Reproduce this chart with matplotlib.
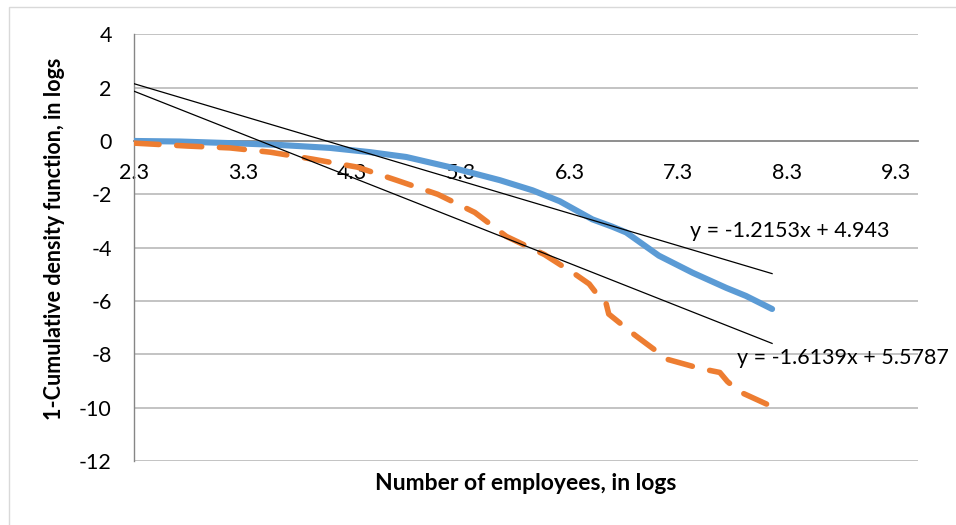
import matplotlib.pyplot as plt
from matplotlib.patches import Rectangle

plt.rcParams['font.family'] = ['Lato', 'DejaVu Sans']
plt.rcParams['axes.unicode_minus'] = False

# blue series (solid)
blue_x = [2.30, 2.72, 3.18, 3.64, 4.10, 4.47, 4.80, 5.20, 5.66, 5.96, 6.21,
          6.51, 6.69, 6.82, 7.12, 7.43, 7.74, 7.92, 8.16]
blue_y = [0.00, -0.02, -0.08, -0.15, -0.26, -0.42, -0.60, -0.98, -1.47, -1.85,
          -2.26, -2.94, -3.21, -3.43, -4.30, -4.94, -5.51, -5.81, -6.30]

# orange series (dashed)
orange_x = [2.30, 2.79, 3.18, 3.55, 3.94, 4.35, 4.71, 5.09, 5.43, 5.72, 6.07,
            6.36, 6.48, 6.58, 6.63, 6.66, 6.90, 7.20, 7.50, 7.68, 7.75, 7.86, 8.16]
orange_y = [-0.08, -0.19, -0.26, -0.42, -0.68, -0.98, -1.47, -2.00, -2.68, -3.58,
            -4.26, -5.02, -5.36, -5.89, -6.00, -6.49, -7.28, -8.19, -8.53, -8.68,
            -9.02, -9.40, -9.96]

# linear trend lines
trend_slope = [-1.2153, -1.6139]
trend_icpt = [4.943, 5.5787]
trend_labels = ["y = -1.2153x + 4.943", "y = -1.6139x + 5.5787"]

x_ticks = [2.3, 3.3, 4.3, 5.3, 6.3, 7.3, 8.3, 9.3]
y_ticks = [4, 2, 0, -2, -4, -6, -8, -10, -12]

fig = plt.figure(figsize=(9.56, 5.25), dpi=100)
ax = fig.add_axes([134 / 956, 1 - 461 / 525, 784 / 956, 426.7 / 525])

ax.set_xlim(2.3, 9.5)
ax.set_ylim(-12, 4)

# gridlines
for yv in y_ticks:
    if yv != 0:
        ax.axhline(yv, color='#b3b3b3', lw=1.1, zorder=1)

ax.plot(blue_x, blue_y, color='#5b9bd5', lw=4.4, solid_capstyle='round',
        solid_joinstyle='round', zorder=3)
ax.plot(orange_x, orange_y, color='#ed7d31', lw=4.0, dashes=(4.5, 3.2),
        dash_capstyle='round', dash_joinstyle='round', zorder=3)

x0, x1 = min(blue_x), max(blue_x)
for m, c in zip(trend_slope, trend_icpt):
    ax.plot([x0, x1], [m * x0 + c, m * x1 + c], color='black', lw=0.9, zorder=4)

ax.text(7.41, -3.37, trend_labels[0], fontsize=15.5, va='center', ha='left', zorder=5)
ax.text(7.84, -8.14, trend_labels[1], fontsize=15.5, va='center', ha='left',
        zorder=5, clip_on=False)

ax.set_xticks(x_ticks)
ax.set_yticks(y_ticks)
ax.set_xticklabels([f"{v:.1f}" for v in x_ticks])
ax.tick_params(axis='both', length=0, labelsize=15.5)
ax.tick_params(axis='x', pad=16)
ax.tick_params(axis='y', pad=16)

ax.spines['top'].set_visible(False)
ax.spines['right'].set_visible(False)
ax.spines['bottom'].set_position(('data', 0))
ax.spines['bottom'].set_color('#868686')
ax.spines['bottom'].set_linewidth(1.3)
ax.spines['bottom'].set_zorder(2)
ax.spines['left'].set_color('#868686')
ax.spines['left'].set_linewidth(1.0)

fig.text(526 / 956, 1 - 483 / 525, "Number of employees, in logs", fontsize=16.5,
         fontweight='bold', ha='center', va='center')
fig.text(55 / 956, 1 - 239 / 525, "1-Cumulative density function, in logs",
         fontsize=15.5, fontweight='bold', ha='center', va='center', rotation=90)

fig.patches.append(Rectangle((9 / 956, -0.1), 1.2, 1.1 - 7 / 525, transform=fig.transFigure,
                             fill=False, ec='#d9d9d9', lw=1.0))

plt.savefig("out.png", dpi=100)
